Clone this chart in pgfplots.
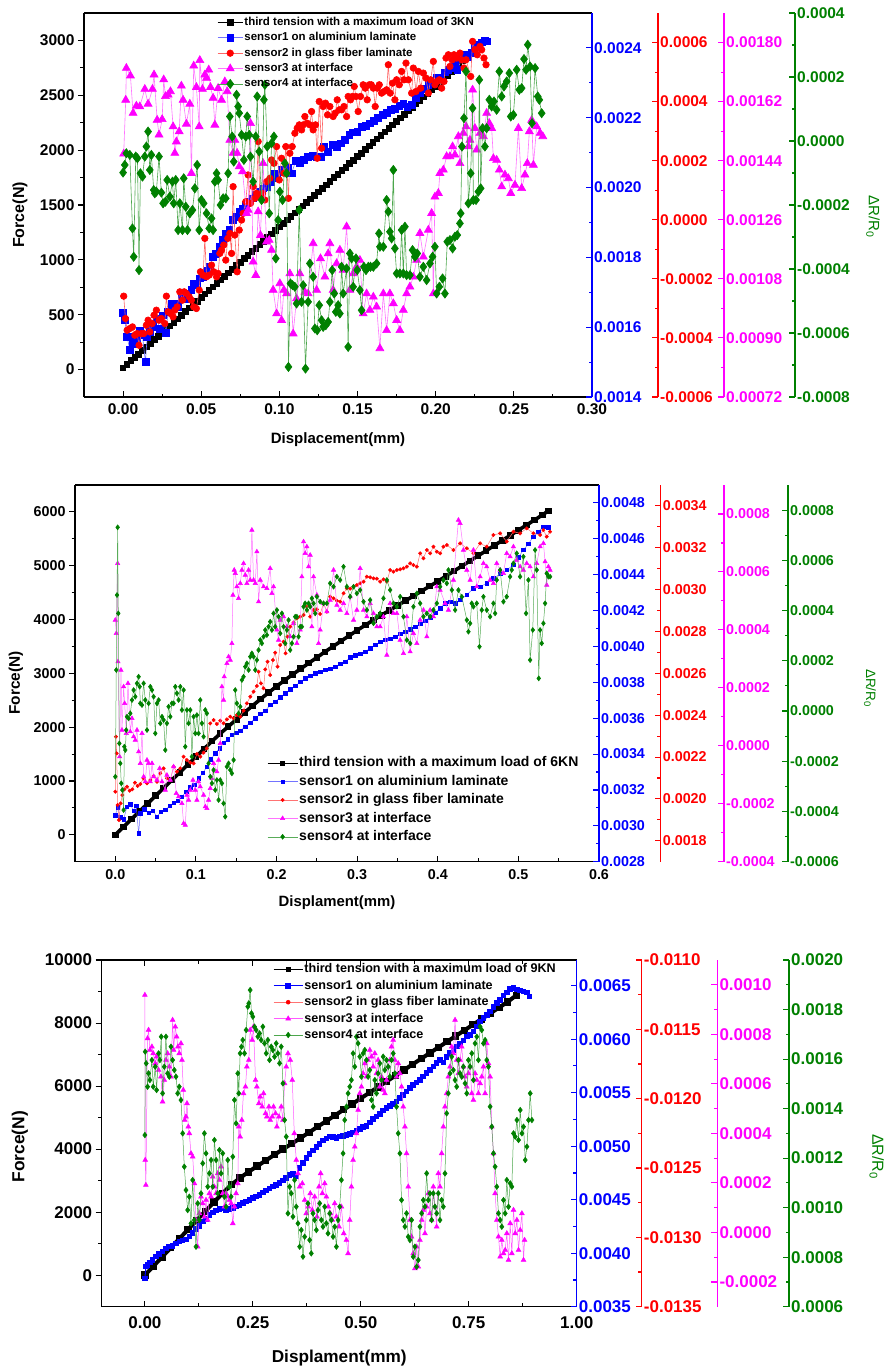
\documentclass[border=0pt]{standalone}
\usepackage{fontspec}
\setmainfont{Liberation Sans}
\usepackage{pgfplots}
\pgfplotsset{compat=1.18}
\definecolor{ogreen}{RGB}{0,128,0}
\definecolor{omag}{RGB}{255,0,255}
\definecolor{oblue}{RGB}{0,0,255}
\definecolor{ored}{RGB}{255,0,0}
\newcommand\fa{\bfseries\fontsize{15.5}{16}\selectfont}
\newcommand\fb{\bfseries\fontsize{14.3}{15}\selectfont}
\newcommand\fc{\bfseries\fontsize{17}{18}\selectfont}
\pgfplotsset{
  base/.style={
    scale only axis,
    /pgf/number format/assume math mode=true,
    /pgf/number format/1000 sep={},
    scaled x ticks=false, scaled y ticks=false,
    major tick length=6pt, minor tick length=3.5pt,
    axis line style={line width=1.5pt,-},
  },
  off/.style={
    base, hide x axis, axis y line*=right, tick align=inside,
    y axis line style={draw=#1,-},
    tick style={draw=#1, line width=1.1pt},
    minor y tick num=1,
    yticklabel style={text=#1, inner sep=2pt,
      /pgf/number format/fixed, /pgf/number format/fixed zerofill,
      /pgf/number format/precision=4},
  },
  mainax/.style={
    base, axis x line*=box, axis y line*=left,
    x axis line style={-}, y axis line style={-},
    xtick align=inside, ytick align=outside,
    tick style={draw=black, line width=1.1pt},
    minor x tick num=1, minor y tick num=1,
    xticklabel style={/pgf/number format/fixed, /pgf/number format/fixed zerofill},
  },
  k1/.style={black, line width=1pt, mark=square*, mark size=2.8pt, mark options={solid}},
  b1/.style={oblue!55, line width=0.6pt, mark=square*, mark size=3.4pt, mark options={solid, fill=oblue, draw=oblue}},
  r1/.style={ored!60, line width=0.6pt, mark=*, mark size=3.3pt, mark options={solid, fill=ored, draw=ored}},
  m1/.style={omag!55, line width=0.6pt, mark=triangle*, mark size=4.6pt, mark options={solid, fill=omag, draw=omag}},
  g1/.style={ogreen!70, line width=0.6pt, mark=diamond*, mark size=4.6pt, mark options={solid, fill=ogreen, draw=ogreen}},
  k2/.style={black, line width=3.6pt, mark=square*, mark size=1.5pt, mark options={solid}},
  b2/.style={oblue!55, line width=0.5pt, mark=square*, mark size=1.7pt, mark options={solid, fill=oblue, draw=oblue}},
  r2/.style={ored!55, line width=0.5pt, mark=*, mark size=1.7pt, mark options={solid, fill=ored, draw=ored}},
  m2/.style={omag!55, line width=0.5pt, mark=triangle*, mark size=2.5pt, mark options={solid, fill=omag, draw=omag}},
  g2/.style={ogreen!65, line width=0.5pt, mark=diamond*, mark size=2.5pt, mark options={solid, fill=ogreen, draw=ogreen}},
  k3/.style={black, line width=4pt, mark=square*, mark size=1.7pt, mark options={solid}},
  b3/.style={oblue, line width=1pt, mark=square*, mark size=2.3pt, mark options={solid, fill=oblue, draw=oblue}},
  r3/.style={ored!55, line width=0.5pt, mark=*, mark size=2pt, mark options={solid, fill=ored, draw=ored}},
  m3/.style={omag!65, line width=0.5pt, mark=triangle*, mark size=2.8pt, mark options={solid, fill=omag, draw=omag}},
  g3/.style={ogreen!70, line width=0.5pt, mark=diamond*, mark size=2.8pt, mark options={solid, fill=ogreen, draw=ogreen}},
}
\begin{document}
\begin{tikzpicture}
\path[use as bounding box] (0,0) rectangle (886pt,-1370pt);
% ================= PANEL 1 =================
\begin{axis}[mainax, at={(84pt,-397pt)}, anchor=south west, width=508pt, height=384pt,
  xmin=-0.025, xmax=0.30, ymin=-250, ymax=3250, xtick pos=left,
  xtick={0,0.05,0.10,0.15,0.20,0.25,0.30}, ytick={0,500,1000,1500,2000,2500,3000},
  xticklabel style={/pgf/number format/precision=2, yshift=-3pt}, ticklabel style={font=\fa},
  xlabel={Displacement(mm)}, ylabel={Force(N)},
  every axis x label/.style={at={(axis description cs:0.5,-0.112)}, anchor=center, font=\bfseries\fontsize{15}{15}\selectfont},
  every axis y label/.style={at={(axis description cs:-0.126,0.474)}, anchor=center, rotate=90, font=\bfseries\fontsize{16}{16}\selectfont}]
\addplot[k1] coordinates {(0,15)(0.0025,48)(0.005,80)(0.0075,110)(0.01,140)(0.0125,172)(0.015,205)(0.0175,238)(0.02,272)(0.0225,303)(0.025,335)(0.0275,366)(0.03,398)(0.0325,430)(0.035,462)(0.0375,495)(0.04,528)(0.0425,560)(0.045,592)(0.0475,623)(0.05,655)(0.0525,688)(0.055,720)(0.0575,753)(0.06,786)(0.0625,818)(0.065,850)(0.0675,881)(0.07,913)(0.0725,946)(0.075,978)(0.0775,1010)(0.08,1042)(0.0825,1074)(0.085,1106)(0.0875,1138)(0.09,1170)(0.0925,1203)(0.095,1236)(0.0975,1268)(0.1,1300)(0.1025,1332)(0.105,1364)(0.1075,1396)(0.11,1428)(0.1125,1460)(0.115,1492)(0.1175,1524)(0.12,1556)(0.1225,1588)(0.125,1620)(0.1275,1652)(0.13,1684)(0.1325,1716)(0.135,1748)(0.1375,1780)(0.14,1812)(0.1425,1844)(0.145,1876)(0.1475,1908)(0.15,1940)(0.1525,1972)(0.155,2004)(0.1575,2036)(0.16,2068)(0.1625,2100)(0.165,2132)(0.1675,2164)(0.17,2196)(0.1725,2228)(0.175,2260)(0.1775,2292)(0.18,2324)(0.1825,2356)(0.185,2388)(0.1875,2420)(0.19,2452)(0.1925,2484)(0.195,2516)(0.1975,2548)(0.2,2580)(0.2025,2612)(0.205,2645)(0.2075,2678)(0.21,2712)(0.2125,2746)(0.215,2780)(0.2175,2814)(0.22,2848)(0.2225,2882)(0.225,2915)(0.2275,2948)(0.23,2980)(0.232,3000)};
\end{axis}
\begin{axis}[off=oblue, at={(84pt,-397pt)}, anchor=south west, width=508pt, height=384pt,
  xmin=-0.025, xmax=0.30, ymin=0.0014, ymax=0.0025,
  ytick={0.0014,0.0016,0.0018,0.0020,0.0022,0.0024}, yticklabel style={font=\fa}]
\addplot[b1] coordinates {(0,0.001642)(0.0011,0.001620)(0.0026,0.001572)(0.0043,0.001536)(0.0060,0.001553)(0.0075,0.001572)(0.0090,0.001567)(0.0107,0.001591)(0.0124,0.001577)(0.0143,0.001500)(0.0154,0.001572)(0.0171,0.001587)(0.0192,0.001601)(0.0213,0.001625)(0.0235,0.001596)(0.0256,0.001634)(0.0273,0.001584)(0.0288,0.001644)(0.0309,0.001668)(0.0331,0.001668)(0.0352,0.001658)(0.0373,0.001682)(0.0395,0.001682)(0.0416,0.001697)(0.0437,0.001706)(0.0452,0.001725)(0.0474,0.001720)(0.0491,0.001740)(0.0512,0.001744)(0.0534,0.001763)(0.0555,0.001773)(0.0572,0.001802)(0.0593,0.001811)(0.0615,0.001830)(0.0636,0.001850)(0.0657,0.001869)(0.0679,0.001878)(0.0700,0.001907)(0.0721,0.001917)(0.0743,0.001931)(0.0764,0.001940)(0.0785,0.001950)(0.0807,0.001960)(0.0828,0.001969)(0.0849,0.001979)(0.0871,0.001988)(0.0896,0.001998)(0.0918,0.002003)(0.0943,0.002017)(0.0965,0.002039)(0.0986,0.002027)(0.1014,0.002050)(0.1035,0.002046)(0.1056,0.002057)(0.1078,0.002041)(0.1105,0.002077)(0.1131,0.002071)(0.1157,0.002079)(0.1184,0.002089)(0.1212,0.002091)(0.1238,0.002089)(0.1263,0.002087)(0.1285,0.002117)(0.1312,0.002103)(0.1340,0.002122)(0.1366,0.002117)(0.1391,0.002127)(0.1419,0.002137)(0.1447,0.002151)(0.1472,0.002158)(0.1498,0.002160)(0.1526,0.002173)(0.1554,0.002177)(0.1579,0.002184)(0.1605,0.002192)(0.1632,0.002199)(0.1660,0.002208)(0.1686,0.002215)(0.1711,0.002223)(0.1739,0.002225)(0.1767,0.002234)(0.1793,0.002240)(0.1818,0.002232)(0.1846,0.002237)(0.1874,0.002256)(0.1899,0.002270)(0.1925,0.002282)(0.1953,0.002294)(0.1980,0.002304)(0.2006,0.002316)(0.2032,0.002311)(0.2059,0.002330)(0.2081,0.002337)(0.2102,0.002342)(0.2123,0.002352)(0.2138,0.002337)(0.2166,0.002368)(0.2187,0.002380)(0.2209,0.002374)(0.2230,0.002385)(0.2251,0.002400)(0.2273,0.002409)(0.2294,0.002416)(0.2315,0.002422)(0.2330,0.002419)};
\end{axis}
\begin{axis}[off=ored, at={(84pt,-397pt)}, anchor=south west, width=574pt, height=384pt,
  xmin=-0.025, xmax=0.34222, ymin=-0.0006, ymax=0.0007,
  ytick={-0.0006,-0.0004,-0.0002,0,0.0002,0.0004,0.0006}, yticklabel style={font=\fa}]
\addplot[r1] coordinates {(0.0004,-0.0002586)(0.0015,-0.0003343)(0.0026,-0.0003739)(0.0043,-0.0003682)(0.0060,-0.0003626)(0.0075,-0.0003909)(0.0090,-0.0003852)(0.0102,-0.0004248)(0.0117,-0.0003852)(0.0132,-0.0003852)(0.0149,-0.0003569)(0.0160,-0.0003400)(0.0171,-0.0003796)(0.0186,-0.0003513)(0.0198,-0.0003231)(0.0213,-0.0003061)(0.0230,-0.0003400)(0.0245,-0.0003343)(0.0267,-0.0003513)(0.0277,-0.0002586)(0.0288,-0.0003117)(0.0303,-0.0003174)(0.0320,-0.0003287)(0.0331,-0.0003061)(0.0346,-0.0002948)(0.0363,-0.0002439)(0.0380,-0.0002722)(0.0391,-0.0002439)(0.0405,-0.0002496)(0.0423,-0.0002608)(0.0437,-0.0002722)(0.0452,-0.0002948)(0.0469,-0.0003004)(0.0487,-0.0002382)(0.0495,-0.0001761)(0.0512,-0.0001874)(0.0523,-0.0000630)(0.0534,-0.0001930)(0.0551,-0.0001874)(0.0566,-0.0001535)(0.0580,-0.0001761)(0.0598,-0.0001930)(0.0608,-0.0001817)(0.0619,-0.0001139)(0.0630,-0.0001026)(0.0644,-0.0000856)(0.0657,-0.0001365)(0.0670,-0.0000630)(0.0683,-0.0000461)(0.0694,-0.0001139)(0.0704,0.0001122)(0.0715,-0.0000517)(0.0730,-0.0001761)(0.0743,-0.0000348)(0.0758,-0.0000009)(0.0768,0.0000217)(0.0785,0.0000613)(0.0800,0.0001517)(0.0815,0.0000557)(0.0832,0.0001122)(0.0843,0.0000726)(0.0854,0.0000896)(0.0864,0.0002648)(0.0875,0.0000783)(0.0892,0.0000896)(0.0907,0.0000670)(0.0918,0.0001291)(0.0939,0.0001404)(0.0950,0.0002026)(0.0965,0.0001913)(0.0982,0.0002478)(0.0999,0.0001348)(0.1014,0.0002083)(0.1029,0.0001574)(0.1041,0.0002478)(0.1058,0.0000726)(0.1067,0.0002252)(0.1082,0.0002478)(0.1099,0.0002930)(0.1114,0.0003100)(0.1127,0.0003213)(0.1142,0.0003043)(0.1152,0.0003213)(0.1163,0.0003496)(0.1178,0.0003270)(0.1195,0.0003213)(0.1206,0.0003665)(0.1216,0.0003043)(0.1231,0.0003213)(0.1242,0.0002083)(0.1255,0.0004004)(0.1270,0.0002422)(0.1280,0.0003835)(0.1295,0.0003948)(0.1308,0.0003552)(0.1323,0.0003835)(0.1344,0.0003496)(0.1357,0.0003609)(0.1370,0.0004061)(0.1383,0.0003722)(0.1398,0.0003722)(0.1413,0.0003835)(0.1430,0.0003496)(0.1440,0.0004174)(0.1455,0.0004061)(0.1468,0.0004174)(0.1479,0.0004513)(0.1490,0.0004174)(0.1504,0.0003665)(0.1519,0.0004174)(0.1536,0.0004570)(0.1549,0.0004456)(0.1562,0.0004061)(0.1575,0.0004570)(0.1588,0.0004570)(0.1601,0.0004456)(0.1613,0.0003835)(0.1626,0.0004456)(0.1639,0.0004570)(0.1654,0.0004287)(0.1669,0.0004343)(0.1686,0.0004400)(0.1697,0.0005248)(0.1709,0.0004287)(0.1724,0.0004626)(0.1739,0.0004061)(0.1750,0.0004739)(0.1767,0.0004570)(0.1782,0.0005022)(0.1797,0.0004739)(0.1810,0.0005304)(0.1825,0.0004739)(0.1846,0.0004287)(0.1857,0.0005135)(0.1874,0.0004343)(0.1889,0.0005022)(0.1904,0.0004456)(0.1921,0.0004965)(0.1938,0.0004796)(0.1953,0.0004287)(0.1968,0.0004739)(0.1985,0.0005361)(0.1995,0.0004570)(0.2010,0.0004683)(0.2023,0.0004739)(0.2038,0.0004456)(0.2053,0.0004683)(0.2066,0.0005474)(0.2081,0.0005587)(0.2091,0.0005191)(0.2106,0.0005417)(0.2117,0.0005587)(0.2134,0.0005474)(0.2155,0.0005643)(0.2166,0.0005417)(0.2181,0.0005135)(0.2194,0.0005417)(0.2224,0.0004852)(0.2236,0.0006039)(0.2251,0.0005756)(0.2266,0.0005587)(0.2283,0.0005869)(0.2294,0.0005756)(0.2309,0.0005474)(0.2322,0.0005248)};
\end{axis}
\begin{axis}[off=omag, at={(84pt,-397pt)}, anchor=south west, width=640pt, height=384pt,
  xmin=-0.025, xmax=0.38444, ymin=0.00072, ymax=0.00189,
  ytick={0.00072,0.00090,0.00108,0.00126,0.00144,0.00162,0.00180},
  yticklabel style={font=\fa, /pgf/number format/precision=5}]
\addplot[m1] coordinates {(0.0004,0.001461)(0.0017,0.001625)(0.0021,0.001722)(0.0047,0.001699)(0.0064,0.001585)(0.0085,0.001607)(0.0107,0.001605)(0.0139,0.001658)(0.0160,0.001613)(0.0188,0.001658)(0.0198,0.001702)(0.0218,0.001564)(0.0230,0.001519)(0.0250,0.001566)(0.0260,0.001687)(0.0271,0.001636)(0.0288,0.001641)(0.0303,0.001651)(0.0320,0.001544)(0.0331,0.001463)(0.0341,0.001498)(0.0359,0.001529)(0.0373,0.001668)(0.0384,0.001625)(0.0405,0.001552)(0.0427,0.001613)(0.0437,0.001402)(0.0452,0.001729)(0.0469,0.001664)(0.0487,0.001544)(0.0491,0.001746)(0.0508,0.001658)(0.0523,0.001702)(0.0534,0.001692)(0.0548,0.001717)(0.0559,0.001664)(0.0576,0.001631)(0.0587,0.001549)(0.0608,0.001661)(0.0630,0.001625)(0.0651,0.001681)(0.0666,0.001651)(0.0683,0.001503)(0.0704,0.001463)(0.0715,0.001503)(0.0730,0.001463)(0.0743,0.001422)(0.0764,0.001407)(0.0790,0.001280)(0.0800,0.001290)(0.0815,0.001554)(0.0832,0.001132)(0.0849,0.001091)(0.0864,0.001285)(0.0879,0.001213)(0.0896,0.001432)(0.0918,0.001193)(0.0935,0.001198)(0.0950,0.001168)(0.0960,0.001046)(0.0982,0.000974)(0.1003,0.001066)(0.1014,0.000954)(0.1029,0.001046)(0.1046,0.001035)(0.1067,0.001096)(0.1088,0.000913)(0.1110,0.001020)(0.1131,0.001096)(0.1163,0.001040)(0.1184,0.001035)(0.1216,0.001188)(0.1238,0.001046)(0.1263,0.001142)(0.1291,0.001086)(0.1312,0.001157)(0.1323,0.001188)(0.1344,0.001046)(0.1366,0.001127)(0.1387,0.001168)(0.1408,0.001107)(0.1430,0.001239)(0.1451,0.001046)(0.1472,0.001096)(0.1494,0.001117)(0.1515,0.001137)(0.1536,0.000974)(0.1558,0.001035)(0.1579,0.000985)(0.1601,0.001025)(0.1622,0.000995)(0.1643,0.000868)(0.1665,0.001035)(0.1686,0.000923)(0.1707,0.001035)(0.1729,0.001005)(0.1750,0.000954)(0.1771,0.000923)(0.1793,0.000985)(0.1814,0.001035)(0.1835,0.001056)(0.1857,0.001086)(0.1878,0.001137)(0.1899,0.001219)(0.1921,0.001147)(0.1953,0.001229)(0.1974,0.001280)(0.1985,0.001035)(0.1995,0.001330)(0.2017,0.001341)(0.2027,0.001402)(0.2049,0.001412)(0.2070,0.001453)(0.2091,0.001453)(0.2108,0.001483)(0.2123,0.001458)(0.2145,0.001514)(0.2155,0.001432)(0.2177,0.001524)(0.2194,0.001544)(0.2209,0.001483)(0.2219,0.001503)(0.2236,0.001656)(0.2251,0.001539)(0.2262,0.001473)(0.2283,0.001524)(0.2305,0.001514)(0.2326,0.001585)(0.2343,0.001554)(0.2358,0.001539)(0.2369,0.001447)(0.2390,0.001442)(0.2407,0.001412)(0.2422,0.001361)(0.2443,0.001397)(0.2465,0.001386)(0.2480,0.001341)(0.2507,0.001366)(0.2529,0.001539)(0.2550,0.001356)(0.2571,0.001397)(0.2586,0.001432)(0.2599,0.001529)(0.2614,0.001564)(0.2625,0.001427)(0.2646,0.001544)(0.2668,0.001524)(0.2685,0.001514)};
\end{axis}
\begin{axis}[off=ogreen, at={(84pt,-397pt)}, anchor=south west, width=711pt, height=384pt,
  xmin=-0.025, xmax=0.42987, ymin=-0.0008, ymax=0.0004,
  ytick={-0.0008,-0.0006,-0.0004,-0.0002,0,0.0002,0.0004}, yticklabel style={font=\fa},
  ylabel={ΔR/R\textsubscript{0}},
  every axis y label/.style={at={(axis description cs:1.1097,0.469)}, anchor=center, rotate=-90, text=ogreen, font=\fontsize{15}{15}\selectfont},
  legend style={at={(axis description cs:0.1871,0.9935)}, anchor=north west, draw=none, fill=none, inner sep=0pt, row sep=2pt,
    font=\bfseries\fontsize{11.5}{12}\selectfont, nodes={inner sep=1.2pt, text height=8.5pt, text depth=2.5pt}},
  legend cell align=left,
  legend image code/.code={\draw[mark repeat=2,mark phase=2,#1] plot coordinates {(0pt,0pt) (12.5pt,0pt) (25pt,0pt)};}]
\addlegendimage{k1}
\addlegendimage{b1}
\addlegendimage{r1}
\addlegendimage{m1}
\addplot[g1] coordinates {(0,-0.0000988)(0.0011,-0.0000748)(0.0021,-0.0000383)(0.0043,-0.0000435)(0.0060,-0.0002731)(0.0068,-0.0003618)(0.0081,-0.0000487)(0.0092,-0.0000540)(0.0102,-0.0004035)(0.0111,-0.0001009)(0.0124,-0.0001114)(0.0139,-0.0000487)(0.0149,-0.0000174)(0.0160,0.0000295)(0.0171,-0.0000905)(0.0181,-0.0000435)(0.0196,-0.0001531)(0.0203,-0.0001635)(0.0213,-0.0001583)(0.0230,-0.0000487)(0.0245,-0.0001614)(0.0256,-0.0001948)(0.0271,-0.0001896)(0.0282,-0.0001218)(0.0299,-0.0001740)(0.0316,-0.0001270)(0.0324,-0.0001948)(0.0337,-0.0001218)(0.0352,-0.0002783)(0.0363,-0.0001948)(0.0380,-0.0002783)(0.0388,-0.0001166)(0.0401,-0.0002053)(0.0412,-0.0002783)(0.0427,-0.0002261)(0.0444,-0.0002157)(0.0459,-0.0001479)(0.0474,-0.0000748)(0.0487,-0.0002783)(0.0501,-0.0001844)(0.0516,-0.0001948)(0.0534,-0.0002261)(0.0551,-0.0002731)(0.0566,-0.0002418)(0.0576,-0.0002783)(0.0587,-0.0001270)(0.0598,-0.0001009)(0.0608,-0.0001218)(0.0623,-0.0002000)(0.0640,-0.0001792)(0.0657,-0.0001792)(0.0672,-0.0001009)(0.0683,0.0000765)(0.0698,0.0000139)(0.0708,-0.0000644)(0.0726,0.0001443)(0.0736,0.0001078)(0.0743,0.0000869)(0.0758,0.0000191)(0.0773,-0.0000592)(0.0785,0.0000139)(0.0794,0.0000765)(0.0807,0.0000191)(0.0815,-0.0000487)(0.0832,-0.0001270)(0.0849,0.0000139)(0.0858,0.0001391)(0.0871,-0.0000331)(0.0886,-0.0001844)(0.0901,0.0001287)(0.0907,0.0001756)(0.0922,-0.0000174)(0.0935,-0.0002261)(0.0950,-0.0000070)(0.0965,0.0000139)(0.0977,-0.0003670)(0.0992,-0.0002470)(0.1003,-0.0001583)(0.1020,-0.0001844)(0.1035,-0.0000696)(0.1046,-0.0001009)(0.1058,-0.0007061)(0.1071,-0.0004453)(0.1084,-0.0004505)(0.1099,-0.0004557)(0.1110,-0.0005079)(0.1127,-0.0002157)(0.1142,-0.0005027)(0.1152,-0.0004505)(0.1167,-0.0007113)(0.1184,-0.0005027)(0.1195,-0.0003827)(0.1216,-0.0004244)(0.1227,-0.0005861)(0.1242,-0.0005913)(0.1255,-0.0005131)(0.1270,-0.0005601)(0.1280,-0.0005809)(0.1297,-0.0005757)(0.1312,-0.0005653)(0.1323,-0.0005027)(0.1338,-0.0004035)(0.1351,-0.0004766)(0.1361,-0.0005340)(0.1376,-0.0005131)(0.1387,-0.0005392)(0.1398,-0.0003931)(0.1408,-0.0004766)(0.1430,-0.0003983)(0.1440,-0.0006435)(0.1451,-0.0003514)(0.1462,-0.0003670)(0.1472,-0.0004557)(0.1490,-0.0003670)(0.1498,-0.0004035)(0.1515,-0.0004662)(0.1526,-0.0005288)(0.1541,-0.0003931)(0.1554,-0.0004035)(0.1569,-0.0003931)(0.1583,-0.0003931)(0.1601,-0.0003931)(0.1622,-0.0003827)(0.1637,-0.0002888)(0.1643,-0.0003305)(0.1665,-0.0003305)(0.1686,-0.0001844)(0.1697,-0.0002209)(0.1707,-0.0002836)(0.1718,-0.0003044)(0.1729,-0.0000905)(0.1739,-0.0003357)(0.1750,-0.0004140)(0.1771,-0.0004140)(0.1782,-0.0002783)(0.1793,-0.0004140)(0.1803,-0.0002679)(0.1814,-0.0004192)(0.1835,-0.0004192)(0.1852,-0.0003409)(0.1867,-0.0003618)(0.1882,-0.0003514)(0.1899,-0.0004244)(0.1921,-0.0003931)(0.1942,-0.0004348)(0.1963,-0.0003827)(0.1980,-0.0003618)(0.1995,-0.0003305)(0.2006,-0.0004766)(0.2023,-0.0004557)(0.2044,-0.0004296)(0.2059,-0.0004766)(0.2074,-0.0003148)(0.2091,-0.0003096)(0.2108,-0.0003357)(0.2123,-0.0002992)(0.2138,-0.0002940)(0.2155,-0.0002574)(0.2160,-0.0002261)(0.2168,-0.0000174)(0.2181,0.0000713)(0.2194,0.0002173)(0.2209,-0.0001948)(0.2224,-0.0001009)(0.2236,0.0001026)(0.2241,-0.0001844)(0.2258,-0.0001844)(0.2273,-0.0001583)(0.2279,0.0001913)(0.2288,-0.0001479)(0.2300,0.0000400)(0.2315,-0.0000174)(0.2326,0.0000400)(0.2343,0.0001287)(0.2358,0.0001078)(0.2373,0.0001235)(0.2390,0.0000974)(0.2407,0.0002173)(0.2422,0.0001391)(0.2437,0.0001704)(0.2454,0.0001861)(0.2471,0.0002121)(0.2480,0.0000765)(0.2497,0.0000817)(0.2518,0.0002226)(0.2535,0.0001600)(0.2550,0.0001652)(0.2565,0.0002560)(0.2578,0.0002226)(0.2589,0.0003008)(0.2604,0.0002330)(0.2616,0.0000556)(0.2636,0.0002278)(0.2653,0.0001391)(0.2663,0.0001287)(0.2678,0.0000869)};
\legend{third tension with a maximum load of 3KN, sensor1 on aluminium laminate, sensor2 in glass fiber laminate, sensor3 at interface, sensor4 at interface}
\end{axis}
% ================= PANEL 2 =================
\begin{axis}[mainax, at={(75pt,-861.7pt)}, anchor=south west, width=524pt, height=376.7pt,
  xmin=-0.05, xmax=0.6, ymin=-500, ymax=6500, xtick pos=left,
  xtick={0,0.1,0.2,0.3,0.4,0.5,0.6}, ytick={0,1000,2000,3000,4000,5000,6000},
  xticklabel style={/pgf/number format/precision=1, yshift=-4pt}, ticklabel style={font=\fb},
  xlabel={Displament(mm)}, ylabel={Force(N)},
  every axis x label/.style={at={(axis description cs:0.5,-0.1088)}, anchor=center, font=\bfseries\fontsize{14.9}{15}\selectfont},
  every axis y label/.style={at={(axis description cs:-0.1126,0.4744)}, anchor=center, rotate=90, font=\bfseries\fontsize{15.4}{16}\selectfont}]
\addplot[k2] coordinates {(0,0)(0.01,145)(0.02,290)(0.03,435)(0.04,580)(0.05,725)(0.06,870)(0.07,1015)(0.08,1160)(0.09,1305)(0.1,1450)(0.11,1595)(0.12,1740)(0.13,1878)(0.14,2010)(0.15,2140)(0.16,2270)(0.17,2395)(0.18,2520)(0.19,2640)(0.2,2760)(0.21,2870)(0.22,2980)(0.23,3085)(0.24,3190)(0.25,3295)(0.26,3400)(0.27,3500)(0.28,3600)(0.29,3700)(0.3,3800)(0.31,3895)(0.32,3990)(0.33,4080)(0.34,4170)(0.35,4260)(0.36,4350)(0.37,4440)(0.38,4530)(0.39,4620)(0.4,4710)(0.41,4805)(0.42,4900)(0.43,4995)(0.44,5090)(0.45,5185)(0.46,5280)(0.47,5375)(0.48,5470)(0.49,5565)(0.5,5660)(0.51,5755)(0.52,5850)(0.53,5945)(0.537,6020)};
\end{axis}
\begin{axis}[off=oblue, at={(75pt,-861.7pt)}, anchor=south west, width=524pt, height=376.7pt,
  xmin=-0.05, xmax=0.6, ymin=0.0028, ymax=0.0049,
  ytick={0.0028,0.0030,0.0032,0.0034,0.0036,0.0038,0.0040,0.0042,0.0044,0.0046,0.0048}, yticklabel style={font=\fb}]
\addplot[b2] coordinates {(0,0.0030601)(0.0029,0.0031029)(0.0062,0.0030472)(0.0103,0.0030361)(0.0145,0.0031066)(0.0186,0.0031196)(0.0227,0.0030843)(0.0260,0.0031103)(0.0289,0.0029579)(0.0310,0.0030694)(0.0360,0.0030917)(0.0413,0.0030731)(0.0467,0.0030843)(0.0517,0.0030508)(0.0566,0.0030787)(0.0620,0.0030880)(0.0674,0.0031103)(0.0723,0.0031289)(0.0773,0.0031400)(0.0826,0.0031623)(0.0880,0.0031902)(0.0930,0.0032144)(0.0979,0.0032274)(0.1033,0.0032646)(0.1087,0.0032962)(0.1136,0.0033296)(0.1186,0.0033705)(0.1240,0.0034040)(0.1293,0.0034319)(0.1343,0.0034635)(0.1393,0.0034821)(0.1446,0.0035062)(0.1500,0.0035192)(0.1550,0.0035304)(0.1612,0.0035527)(0.1674,0.0035750)(0.1736,0.0035991)(0.1798,0.0036233)(0.1860,0.0036418)(0.1921,0.0036734)(0.1983,0.0036920)(0.2045,0.0037162)(0.2107,0.0037385)(0.2169,0.0037608)(0.2231,0.0037794)(0.2293,0.0038017)(0.2355,0.0038221)(0.2417,0.0038351)(0.2479,0.0038500)(0.2541,0.0038574)(0.2603,0.0038686)(0.2665,0.0038760)(0.2727,0.0038871)(0.2789,0.0039020)(0.2851,0.0039150)(0.2913,0.0039392)(0.2975,0.0039503)(0.3037,0.0039578)(0.3099,0.0039708)(0.3161,0.0039894)(0.3223,0.0040079)(0.3285,0.0040247)(0.3347,0.0040358)(0.3409,0.0040433)(0.3471,0.0040544)(0.3533,0.0040693)(0.3595,0.0040804)(0.3657,0.0040953)(0.3719,0.0041102)(0.3781,0.0041250)(0.3843,0.0041436)(0.3905,0.0041622)(0.3967,0.0041882)(0.4029,0.0042124)(0.4091,0.0042402)(0.4153,0.0042495)(0.4215,0.0042402)(0.4277,0.0042588)(0.4360,0.0042867)(0.4442,0.0043239)(0.4525,0.0043332)(0.4607,0.0043518)(0.4690,0.0043797)(0.4773,0.0044038)(0.4855,0.0044261)(0.4938,0.0044540)(0.5000,0.0044967)(0.5062,0.0045376)(0.5124,0.0045710)(0.5186,0.0046127)(0.5248,0.0046398)(0.5310,0.0046677)(0.5372,0.0046640)};
\end{axis}
\begin{axis}[off=ored, at={(75pt,-861.7pt)}, anchor=south west, width=585.7pt, height=376.7pt,
  xmin=-0.05, xmax=0.67649, ymin=0.0017, ymax=0.0035,
  ytick={0.0018,0.0020,0.0022,0.0024,0.0026,0.0028,0.0030,0.0032,0.0034}, yticklabel style={font=\fb}]
\addplot[r2] coordinates {(0,0.0020345)(0.0008,0.0022974)(0.0017,0.0022177)(0.0029,0.0019708)(0.0045,0.0018991)(0.0066,0.0019788)(0.0087,0.0020185)(0.0112,0.0020457)(0.0145,0.0020584)(0.0178,0.0020393)(0.0211,0.0020457)(0.0244,0.0020775)(0.0277,0.0020616)(0.0310,0.0020712)(0.0351,0.0020983)(0.0393,0.0020743)(0.0434,0.0020903)(0.0475,0.0021094)(0.0517,0.0020823)(0.0558,0.0021221)(0.0599,0.0021460)(0.0640,0.0020983)(0.0682,0.0020903)(0.0723,0.0021540)(0.0764,0.0021301)(0.0806,0.0021460)(0.0847,0.0022018)(0.0888,0.0021858)(0.0930,0.0021731)(0.0971,0.0021699)(0.1012,0.0022145)(0.1054,0.0022018)(0.1095,0.0022209)(0.1136,0.0022416)(0.1178,0.0023611)(0.1219,0.0023770)(0.1260,0.0023579)(0.1302,0.0023738)(0.1343,0.0023611)(0.1384,0.0023802)(0.1426,0.0023930)(0.1467,0.0023850)(0.1508,0.0024009)(0.1550,0.0023930)(0.1591,0.0024216)(0.1632,0.0024567)(0.1674,0.0024885)(0.1715,0.0025124)(0.1756,0.0025396)(0.1777,0.0026080)(0.1806,0.0025522)(0.1839,0.0025283)(0.1860,0.0026191)(0.1888,0.0026558)(0.1921,0.0025920)(0.1955,0.0026637)(0.1983,0.0026988)(0.2012,0.0026319)(0.2045,0.0027354)(0.2087,0.0027514)(0.2112,0.0026956)(0.2136,0.0027753)(0.2169,0.0028230)(0.2211,0.0028422)(0.2252,0.0028628)(0.2293,0.0028708)(0.2335,0.0028788)(0.2376,0.0029186)(0.2417,0.0028708)(0.2459,0.0029027)(0.2500,0.0029059)(0.2541,0.0028836)(0.2583,0.0029345)(0.2624,0.0028947)(0.2665,0.0029664)(0.2707,0.0029584)(0.2748,0.0029473)(0.2789,0.0029425)(0.2831,0.0029823)(0.2872,0.0030062)(0.2913,0.0030046)(0.2955,0.0030142)(0.2996,0.0030221)(0.3037,0.0030301)(0.3079,0.0030381)(0.3120,0.0030620)(0.3161,0.0030588)(0.3202,0.0030540)(0.3244,0.0030524)(0.3285,0.0030381)(0.3326,0.0030492)(0.3368,0.0030381)(0.3409,0.0030939)(0.3450,0.0030859)(0.3492,0.0030939)(0.3533,0.0030970)(0.3574,0.0031018)(0.3616,0.0031098)(0.3657,0.0031257)(0.3698,0.0031177)(0.3740,0.0031098)(0.3781,0.0031735)(0.3822,0.0031496)(0.3864,0.0031894)(0.3905,0.0031735)(0.3946,0.0032053)(0.3988,0.0031814)(0.4029,0.0031735)(0.4070,0.0032053)(0.4112,0.0032133)(0.4194,0.0031894)(0.4277,0.0032213)(0.4360,0.0031974)(0.4442,0.0031735)(0.4525,0.0032213)(0.4607,0.0032053)(0.4690,0.0032611)(0.4773,0.0032690)(0.4855,0.0032292)(0.4938,0.0032770)(0.5021,0.0032690)(0.5103,0.0032929)(0.5186,0.0032690)(0.5269,0.0032611)(0.5310,0.0032850)(0.5351,0.0032531)(0.5393,0.0032770)};
\end{axis}
\begin{axis}[off=omag, at={(75pt,-861.7pt)}, anchor=south west, width=649pt, height=376.7pt,
  xmin=-0.05, xmax=0.75501, ymin=-0.0004, ymax=0.0009,
  ytick={-0.0004,-0.0002,0,0.0002,0.0004,0.0006,0.0008}, yticklabel style={font=\fb}]
\addplot[m2] coordinates {(0,0.0004341)(0.0012,0.0003881)(0.0029,0.0006296)(0.0033,0.0002903)(0.0054,-0.0000376)(0.0070,0.0002615)(0.0083,0.0000544)(0.0103,0.0002040)(0.0116,0.0001465)(0.0136,0.0000430)(0.0157,0.0002155)(0.0186,0.0000487)(0.0207,0.0000947)(0.0227,0.0000314)(0.0248,0.0000199)(0.0269,0.0000544)(0.0289,-0.0000204)(0.0310,-0.0000606)(0.0331,0.0000430)(0.0351,-0.0001066)(0.0372,-0.0001239)(0.0393,-0.0000491)(0.0413,-0.0000606)(0.0434,-0.0001239)(0.0455,-0.0000606)(0.0475,-0.0001066)(0.0517,-0.0001181)(0.0550,-0.0000779)(0.0579,-0.0001239)(0.0620,-0.0001526)(0.0640,-0.0001009)(0.0682,-0.0001181)(0.0723,-0.0000721)(0.0756,-0.0001641)(0.0785,-0.0001756)(0.0826,-0.0001987)(0.0847,-0.0002677)(0.0868,-0.0002734)(0.0888,-0.0001699)(0.0909,-0.0001871)(0.0930,-0.0001526)(0.0963,-0.0001181)(0.0992,-0.0001526)(0.1012,-0.0001871)(0.1033,-0.0001239)(0.1054,-0.0001411)(0.1095,-0.0001699)(0.1116,-0.0002101)(0.1136,-0.0002159)(0.1157,-0.0001871)(0.1178,-0.0001469)(0.1198,-0.0001124)(0.1219,-0.0000606)(0.1260,-0.0000894)(0.1281,-0.0000491)(0.1302,0.0000084)(0.1322,0.0002040)(0.1343,0.0001580)(0.1351,0.0002385)(0.1384,0.0002845)(0.1405,0.0003075)(0.1426,0.0002960)(0.1446,0.0003535)(0.1459,0.0005204)(0.1475,0.0006066)(0.1488,0.0005952)(0.1508,0.0005491)(0.1529,0.0005088)(0.1550,0.0005606)(0.1570,0.0006066)(0.1591,0.0006296)(0.1612,0.0005894)(0.1632,0.0005606)(0.1653,0.0006066)(0.1674,0.0005721)(0.1694,0.0007447)(0.1715,0.0005721)(0.1736,0.0005606)(0.1756,0.0006699)(0.1777,0.0004973)(0.1798,0.0005721)(0.1839,0.0005491)(0.1880,0.0005434)(0.1921,0.0006124)(0.1942,0.0005261)(0.1963,0.0005491)(0.2004,0.0004000)(0.2025,0.0003651)(0.2045,0.0004341)(0.2087,0.0004456)(0.2128,0.0004111)(0.2169,0.0003766)(0.2211,0.0004226)(0.2252,0.0003535)(0.2293,0.0004000)(0.2314,0.0005836)(0.2335,0.0007044)(0.2355,0.0006642)(0.2376,0.0006872)(0.2397,0.0006181)(0.2417,0.0006584)(0.2438,0.0004111)(0.2459,0.0005836)(0.2500,0.0005204)(0.2521,0.0003535)(0.2541,0.0004000)(0.2583,0.0004916)(0.2624,0.0004628)(0.2665,0.0005031)(0.2707,0.0006066)(0.2748,0.0004858)(0.2789,0.0004686)(0.2831,0.0004916)(0.2872,0.0004571)(0.2913,0.0005146)(0.2955,0.0004341)(0.2996,0.0004686)(0.3037,0.0006124)(0.3079,0.0004686)(0.3120,0.0004456)(0.3161,0.0004916)(0.3202,0.0004571)(0.3244,0.0004111)(0.3285,0.0004111)(0.3326,0.0004456)(0.3368,0.0003133)(0.3409,0.0004916)(0.3450,0.0004571)(0.3492,0.0004571)(0.3533,0.0003651)(0.3574,0.0003190)(0.3616,0.0004456)(0.3657,0.0003248)(0.3698,0.0003881)(0.3740,0.0003535)(0.3781,0.0004341)(0.3822,0.0004686)(0.3864,0.0003766)(0.3905,0.0004686)(0.3946,0.0004456)(0.3988,0.0005491)(0.4029,0.0005376)(0.4091,0.0004916)(0.4132,0.0004686)(0.4194,0.0005721)(0.4256,0.0007792)(0.4277,0.0007677)(0.4318,0.0006757)(0.4360,0.0006066)(0.4401,0.0005721)(0.4442,0.0006757)(0.4483,0.0005491)(0.4525,0.0005836)(0.4566,0.0006296)(0.4607,0.0006181)(0.4649,0.0005721)(0.4690,0.0005606)(0.4731,0.0006296)(0.4773,0.0006066)(0.4814,0.0005952)(0.4855,0.0006642)(0.4897,0.0006526)(0.4938,0.0006872)(0.4979,0.0006411)(0.5021,0.0006181)(0.5062,0.0006066)(0.5103,0.0006296)(0.5145,0.0006181)(0.5186,0.0005836)(0.5227,0.0006296)(0.5269,0.0006872)(0.5310,0.0006987)(0.5331,0.0006354)(0.5351,0.0005549)(0.5372,0.0006181)(0.5393,0.0006066)};
\end{axis}
\begin{axis}[off=ogreen, at={(75pt,-861.7pt)}, anchor=south west, width=713pt, height=376.7pt,
  xmin=-0.05, xmax=0.83440, ymin=-0.0006, ymax=0.0009,
  ytick={-0.0006,-0.0004,-0.0002,0,0.0002,0.0004,0.0006,0.0008}, yticklabel style={font=\fb},
  ylabel={ΔR/R\textsubscript{0}},
  every axis y label/.style={at={(axis description cs:1.115,0.461)}, anchor=center, rotate=-90, text=ogreen, font=\fontsize{13.5}{14}\selectfont},
  legend style={at={(axis description cs:0.2693,0.2832)}, anchor=north west, draw=none, fill=none, inner sep=0pt, row sep=2.5pt,
    font=\bfseries\fontsize{14}{14}\selectfont, nodes={inner sep=1.2pt, text height=10.5pt, text depth=3pt}},
  legend cell align=left,
  legend image code/.code={\draw[mark repeat=2,mark phase=2,#1] plot coordinates {(0pt,0pt) (15pt,0pt) (30pt,0pt)};}]
\addlegendimage{black, line width=0.8pt, mark=square*, mark size=1.8pt, mark options={solid}}
\addlegendimage{b2}
\addlegendimage{r2}
\addlegendimage{m2}
\addplot[g2] coordinates {(0,-0.0002615)(0.0012,0.0001633)(0.0021,0.0004619)(0.0029,0.0007314)(0.0037,0.0003889)(0.0050,-0.0001288)(0.0062,-0.0002084)(0.0074,-0.0002880)(0.0087,-0.0003146)(0.0103,-0.0003942)(0.0112,-0.0001420)(0.0124,-0.0001553)(0.0136,-0.0000757)(0.0145,-0.0000226)(0.0165,-0.0000292)(0.0186,-0.0000093)(0.0207,0.0000438)(0.0227,0.0000836)(0.0248,0.0000571)(0.0269,0.0001102)(0.0289,0.0001367)(0.0302,0.0000969)(0.0310,0.0000305)(0.0331,0.0000239)(0.0351,0.0001102)(0.0372,0.0000438)(0.0393,-0.0000757)(0.0413,0.0000305)(0.0434,0.0000969)(0.0455,0.0000836)(0.0475,0.0000571)(0.0496,-0.0000890)(0.0517,0.0000305)(0.0537,0.0000438)(0.0558,-0.0000491)(0.0579,-0.0000226)(0.0599,-0.0000358)(0.0620,-0.0001553)(0.0640,-0.0000491)(0.0661,0.0000173)(0.0682,-0.0000226)(0.0702,0.0000305)(0.0723,0.0000305)(0.0744,0.0000969)(0.0764,0.0000704)(0.0785,0.0000438)(0.0806,0.0000969)(0.0826,0.0000040)(0.0847,0.0000836)(0.0868,-0.0001420)(0.0888,0.0000040)(0.0909,-0.0000491)(0.0930,0.0000040)(0.0950,-0.0001819)(0.0971,-0.0000226)(0.0992,-0.0000890)(0.1012,-0.0000160)(0.1033,-0.0000890)(0.1054,0.0000438)(0.1074,-0.0000491)(0.1095,-0.0001022)(0.1116,0.0000040)(0.1136,-0.0000093)(0.1157,-0.0002084)(0.1178,-0.0002615)(0.1198,-0.0002880)(0.1219,-0.0002349)(0.1240,-0.0003146)(0.1260,-0.0002748)(0.1281,-0.0003544)(0.1302,-0.0002748)(0.1322,-0.0002880)(0.1343,-0.0003677)(0.1364,-0.0004208)(0.1384,-0.0002217)(0.1405,-0.0002084)(0.1426,-0.0002349)(0.1446,-0.0002482)(0.1467,-0.0001951)(0.1488,0.0000836)(0.1508,0.0000305)(0.1529,-0.0000093)(0.1550,0.0000172)(0.1570,0.0001235)(0.1591,0.0001367)(0.1612,0.0001766)(0.1632,0.0001898)(0.1653,0.0001633)(0.1674,0.0002164)(0.1694,0.0002296)(0.1715,0.0002164)(0.1736,0.0001633)(0.1756,0.0002031)(0.1777,0.0002429)(0.1798,0.0002827)(0.1818,0.0002695)(0.1839,0.0002960)(0.1860,0.0003226)(0.1880,0.0003027)(0.1901,0.0003358)(0.1921,0.0003558)(0.1942,0.0003226)(0.1963,0.0003889)(0.1983,0.0003358)(0.2004,0.0004022)(0.2025,0.0003757)(0.2045,0.0003093)(0.2066,0.0003889)(0.2087,0.0003358)(0.2107,0.0002695)(0.2128,0.0003226)(0.2149,0.0003624)(0.2169,0.0002429)(0.2190,0.0002695)(0.2211,0.0002960)(0.2231,0.0003757)(0.2252,0.0003757)(0.2273,0.0002960)(0.2293,0.0003358)(0.2314,0.0003358)(0.2335,0.0004155)(0.2355,0.0004288)(0.2376,0.0004022)(0.2397,0.0004288)(0.2417,0.0004155)(0.2438,0.0004487)(0.2459,0.0004288)(0.2479,0.0003889)(0.2500,0.0004553)(0.2541,0.0004354)(0.2583,0.0004288)(0.2624,0.0004288)(0.2665,0.0005084)(0.2707,0.0004951)(0.2748,0.0005350)(0.2789,0.0005217)(0.2831,0.0005748)(0.2872,0.0004951)(0.2913,0.0004553)(0.2955,0.0004951)(0.2996,0.0004686)(0.3037,0.0004819)(0.3079,0.0004354)(0.3120,0.0004022)(0.3161,0.0004420)(0.3202,0.0003491)(0.3244,0.0003757)(0.3285,0.0003889)(0.3326,0.0004487)(0.3368,0.0005217)(0.3409,0.0004819)(0.3450,0.0004288)(0.3492,0.0004155)(0.3533,0.0004553)(0.3574,0.0003757)(0.3616,0.0002827)(0.3657,0.0002695)(0.3698,0.0004155)(0.3740,0.0004686)(0.3781,0.0004288)(0.3822,0.0003757)(0.3864,0.0003889)(0.3905,0.0003757)(0.3946,0.0004022)(0.3988,0.0004288)(0.4029,0.0004951)(0.4070,0.0005217)(0.4112,0.0005084)(0.4132,0.0005615)(0.4174,0.0004819)(0.4215,0.0004022)(0.4256,0.0004819)(0.4298,0.0004553)(0.4360,0.0003624)(0.4380,0.0003159)(0.4401,0.0003491)(0.4421,0.0004288)(0.4442,0.0004155)(0.4483,0.0004288)(0.4517,0.0002562)(0.4545,0.0004022)(0.4566,0.0004553)(0.4607,0.0004022)(0.4649,0.0003757)(0.4690,0.0004288)(0.4711,0.0003889)(0.4731,0.0005217)(0.4773,0.0005615)(0.4814,0.0004354)(0.4855,0.0004553)(0.4897,0.0005350)(0.4917,0.0005615)(0.4938,0.0005881)(0.4979,0.0006279)(0.5021,0.0005350)(0.5062,0.0006146)(0.5095,0.0003889)(0.5124,0.0005217)(0.5145,0.0002031)(0.5178,0.0003226)(0.5207,0.0006412)(0.5227,0.0005615)(0.5252,0.0001301)(0.5269,0.0003226)(0.5289,0.0002695)(0.5310,0.0003491)(0.5331,0.0004288)(0.5351,0.0005483)(0.5372,0.0005350)(0.5393,0.0005350)};
\legend{third tension with a maximum load of 6KN, sensor1 on aluminium laminate, sensor2 in glass fiber laminate, sensor3 at interface, sensor4 at interface}
\end{axis}
% ================= PANEL 3 =================
\begin{axis}[mainax, at={(101.7pt,-1306.7pt)}, anchor=south west, width=475pt, height=346.7pt,
  xmin=-0.1, xmax=1.0, ymin=-1000, ymax=10000, xtick pos=both,
  xtick={0,0.25,0.5,0.75,1.0}, ytick={0,2000,4000,6000,8000,10000},
  xticklabel style={/pgf/number format/precision=2, yshift=-6pt}, ticklabel style={font=\fc},
  xlabel={Displament(mm)}, ylabel={Force(N)},
  every axis x label/.style={at={(axis description cs:0.5,-0.147)}, anchor=center, font=\bfseries\fontsize{17.2}{18}\selectfont},
  every axis y label/.style={at={(axis description cs:-0.172,0.4615)}, anchor=center, rotate=90, font=\bfseries\fontsize{17.4}{18}\selectfont}]
\addplot[k3] coordinates {(0,0)(0.02,290)(0.04,580)(0.06,870)(0.08,1160)(0.1,1450)(0.12,1740)(0.14,2030)(0.16,2320)(0.18,2600)(0.2,2870)(0.22,3080)(0.24,3280)(0.26,3460)(0.28,3640)(0.3,3820)(0.32,4000)(0.34,4170)(0.36,4350)(0.38,4530)(0.4,4710)(0.42,4890)(0.44,5070)(0.46,5250)(0.48,5430)(0.5,5610)(0.52,5790)(0.54,5970)(0.56,6150)(0.58,6330)(0.6,6510)(0.62,6690)(0.64,6870)(0.66,7050)(0.68,7230)(0.7,7410)(0.72,7590)(0.74,7770)(0.76,7950)(0.78,8130)(0.8,8310)(0.82,8490)(0.84,8670)(0.86,8880)};
\end{axis}
\begin{axis}[off=oblue, at={(101.7pt,-1306.7pt)}, anchor=south west, width=475pt, height=346.7pt,
  xmin=-0.1, xmax=1.0, ymin=0.0035, ymax=0.00674,
  ytick={0.0035,0.0040,0.0045,0.0050,0.0055,0.0060,0.0065}, yticklabel style={font=\fc}]
\addplot[b3] coordinates {(0,0.0037651)(0.0023,0.0038743)(0.0062,0.0038899)(0.0116,0.0039117)(0.0178,0.0039366)(0.0255,0.0039678)(0.0333,0.0039928)(0.0410,0.0040147)(0.0488,0.0040458)(0.0565,0.0040614)(0.0642,0.0040677)(0.0720,0.0040926)(0.0797,0.0041082)(0.0875,0.0041176)(0.0952,0.0041300)(0.1029,0.0041550)(0.1107,0.0041861)(0.1184,0.0042236)(0.1262,0.0042547)(0.1339,0.0042953)(0.1416,0.0043171)(0.1494,0.0043576)(0.1571,0.0043795)(0.1649,0.0043982)(0.1726,0.0044106)(0.1803,0.0044169)(0.1881,0.0044044)(0.1958,0.0044106)(0.2036,0.0044200)(0.2113,0.0044356)(0.2190,0.0044512)(0.2268,0.0044668)(0.2345,0.0044824)(0.2423,0.0044980)(0.2500,0.0045136)(0.2577,0.0045291)(0.2655,0.0045447)(0.2732,0.0045665)(0.2810,0.0045852)(0.2887,0.0046040)(0.2964,0.0046227)(0.3042,0.0046383)(0.3119,0.0046539)(0.3197,0.0046788)(0.3274,0.0047007)(0.3351,0.0047319)(0.3429,0.0047412)(0.3506,0.0047163)(0.3584,0.0047942)(0.3661,0.0048410)(0.3738,0.0048878)(0.3816,0.0049283)(0.3893,0.0049595)(0.3971,0.0049907)(0.4048,0.0050219)(0.4125,0.0050531)(0.4203,0.0050718)(0.4280,0.0050905)(0.4358,0.0050842)(0.4435,0.0050749)(0.4512,0.0050905)(0.4590,0.0050967)(0.4667,0.0051061)(0.4745,0.0051154)(0.4822,0.0051279)(0.4899,0.0051466)(0.4977,0.0051591)(0.5054,0.0051778)(0.5132,0.0051903)(0.5209,0.0052214)(0.5286,0.0052526)(0.5364,0.0052776)(0.5441,0.0053025)(0.5519,0.0053337)(0.5596,0.0053556)(0.5673,0.0053774)(0.5751,0.0053961)(0.5828,0.0054179)(0.5906,0.0054491)(0.5983,0.0054803)(0.6060,0.0055115)(0.6138,0.0055427)(0.6215,0.0055739)(0.6293,0.0055957)(0.6370,0.0056206)(0.6447,0.0056518)(0.6525,0.0056830)(0.6602,0.0057142)(0.6680,0.0057454)(0.6757,0.0057765)(0.6834,0.0058077)(0.6912,0.0057828)(0.6989,0.0058326)(0.7067,0.0058701)(0.7144,0.0059013)(0.7221,0.0059324)(0.7299,0.0059574)(0.7376,0.0059886)(0.7454,0.0060261)(0.7531,0.0060417)(0.7608,0.0060728)(0.7686,0.0061196)(0.7763,0.0061663)(0.7841,0.0061975)(0.7918,0.0062287)(0.7995,0.0062599)(0.8073,0.0063004)(0.8150,0.0063379)(0.8228,0.0063690)(0.8305,0.0064065)(0.8382,0.0064377)(0.8460,0.0064689)(0.8537,0.0064782)(0.8615,0.0064626)(0.8692,0.0064564)(0.8769,0.0064470)(0.8847,0.0064377)(0.8909,0.0064003)};
\end{axis}
\begin{axis}[off=ored, at={(101.7pt,-1306.7pt)}, anchor=south west, width=540pt, height=346.7pt,
  xmin=-0.1, xmax=1.1506, ymin=-0.0135, ymax=-0.0110,
  ytick={-0.0135,-0.0130,-0.0125,-0.0120,-0.0115,-0.0110}, yticklabel style={font=\fc}]
\end{axis}
\begin{axis}[off=omag, at={(101.7pt,-1306.7pt)}, anchor=south west, width=615.6pt, height=346.7pt,
  xmin=-0.1, xmax=1.32566, ymin=-0.0003, ymax=0.0011,
  ytick={-0.0002,0,0.0002,0.0004,0.0006,0.0008,0.0010}, yticklabel style={font=\fc}]
\addplot[m3] coordinates {(0,0.0009586)(0.0008,0.0002923)(0.0023,0.0001913)(0.0062,0.0007836)(0.0085,0.0008173)(0.0116,0.0007365)(0.0163,0.0007500)(0.0193,0.0007230)(0.0240,0.0006827)(0.0271,0.0007096)(0.0317,0.0006557)(0.0372,0.0006288)(0.0410,0.0005279)(0.0449,0.0006153)(0.0488,0.0006961)(0.0526,0.0007230)(0.0565,0.0006692)(0.0604,0.0006288)(0.0642,0.0008577)(0.0666,0.0007365)(0.0704,0.0008307)(0.0735,0.0007903)(0.0766,0.0007500)(0.0797,0.0007230)(0.0836,0.0007634)(0.0859,0.0006961)(0.0890,0.0005750)(0.0921,0.0004538)(0.0952,0.0004673)(0.0975,0.0005211)(0.1006,0.0004269)(0.1029,0.0004000)(0.1068,0.0003192)(0.1107,0.0003057)(0.1146,0.0001980)(0.1184,0.0000500)(0.1223,-0.0000577)(0.1262,0.0000769)(0.1300,0.0001442)(0.1339,0.0001173)(0.1378,0.0000634)(0.1416,0.0001307)(0.1455,0.0000500)(0.1494,0.0001577)(0.1533,0.0001442)(0.1571,0.0002250)(0.1610,0.0001846)(0.1649,0.0001577)(0.1687,0.0002384)(0.1726,0.0002115)(0.1765,0.0002654)(0.1803,0.0001577)(0.1842,0.0001038)(0.1881,0.0001577)(0.1920,0.0001442)(0.1958,0.0001307)(0.1997,0.0001173)(0.2036,0.0000365)(0.2074,0.0001038)(0.2113,0.0001577)(0.2152,0.0001980)(0.2175,0.0004269)(0.2206,0.0003865)(0.2245,0.0004538)(0.2283,0.0005615)(0.2330,0.0005884)(0.2361,0.0006692)(0.2407,0.0006961)(0.2438,0.0008173)(0.2485,0.0007769)(0.2515,0.0008307)(0.2562,0.0006153)(0.2593,0.0005884)(0.2639,0.0005211)(0.2670,0.0005480)(0.2717,0.0005077)(0.2748,0.0005615)(0.2794,0.0004807)(0.2825,0.0004673)(0.2872,0.0005077)(0.2902,0.0004538)(0.2949,0.0004673)(0.2980,0.0005077)(0.3026,0.0004807)(0.3057,0.0004269)(0.3104,0.0004673)(0.3158,0.0005077)(0.3197,0.0004538)(0.3235,0.0006019)(0.3274,0.0006692)(0.3313,0.0007230)(0.3367,0.0006961)(0.3413,0.0006153)(0.3460,0.0004000)(0.3506,0.0002923)(0.3545,0.0002384)(0.3584,0.0001846)(0.3646,0.0001980)(0.3700,0.0001307)(0.3738,0.0000769)(0.3785,0.0001038)(0.3831,0.0001577)(0.3878,0.0000904)(0.3932,0.0001442)(0.3986,0.0000634)(0.4033,0.0001846)(0.4071,0.0002384)(0.4110,0.0001577)(0.4164,0.0001980)(0.4203,0.0001442)(0.4249,0.0001038)(0.4296,0.0000769)(0.4342,0.0000500)(0.4396,0.0001173)(0.4435,0.0000634)(0.4497,0.0000231)(0.4551,0.0001038)(0.4605,-0.0000039)(0.4667,-0.0000308)(0.4706,-0.0000846)(0.4745,0.0000500)(0.4783,0.0001846)(0.4822,0.0002923)(0.4861,0.0003461)(0.4899,0.0004000)(0.4938,0.0004942)(0.4977,0.0005615)(0.5015,0.0005884)(0.5054,0.0006423)(0.5093,0.0006827)(0.5132,0.0006288)(0.5170,0.0006961)(0.5209,0.0007365)(0.5248,0.0007096)(0.5286,0.0006692)(0.5325,0.0007230)(0.5364,0.0006423)(0.5402,0.0006961)(0.5441,0.0005884)(0.5480,0.0006288)(0.5519,0.0005750)(0.5557,0.0005615)(0.5596,0.0006153)(0.5635,0.0006692)(0.5673,0.0006961)(0.5712,0.0007500)(0.5751,0.0007769)(0.5789,0.0006961)(0.5828,0.0006288)(0.5867,0.0006827)(0.5906,0.0006423)(0.5944,0.0005884)(0.5983,0.0005077)(0.6022,0.0004269)(0.6060,0.0003192)(0.6099,0.0001846)(0.6138,0.0000500)(0.6176,-0.0000173)(0.6215,-0.0000846)(0.6254,-0.0001452)(0.6293,-0.0000577)(0.6331,-0.0001385)(0.6370,-0.0000308)(0.6409,0.0000500)(0.6447,0.0000904)(0.6486,-0.0000039)(0.6525,0.0001038)(0.6563,0.0001577)(0.6602,0.0000769)(0.6641,0.0000500)(0.6680,0.0001846)(0.6718,0.0001038)(0.6757,0.0000231)(0.6796,0.0002384)(0.6834,0.0001846)(0.6873,0.0003192)(0.6912,0.0004269)(0.6950,0.0005077)(0.6989,0.0005615)(0.7028,0.0006288)(0.7067,0.0006692)(0.7105,0.0007500)(0.7144,0.0007230)(0.7183,0.0008577)(0.7221,0.0006961)(0.7260,0.0006423)(0.7299,0.0006961)(0.7337,0.0007500)(0.7376,0.0006692)(0.7415,0.0006288)(0.7454,0.0005884)(0.7492,0.0006423)(0.7531,0.0006692)(0.7570,0.0005615)(0.7608,0.0005346)(0.7647,0.0006423)(0.7686,0.0006153)(0.7724,0.0005615)(0.7763,0.0006019)(0.7802,0.0006288)(0.7841,0.0006692)(0.7879,0.0005615)(0.7918,0.0007634)(0.7957,0.0006827)(0.7995,0.0006288)(0.8034,0.0004269)(0.8073,0.0003192)(0.8111,0.0001577)(0.8150,0.0000500)(0.8189,-0.0000173)(0.8228,-0.0000981)(0.8266,-0.0000308)(0.8305,-0.0000846)(0.8344,-0.0000712)(0.8382,-0.0000039)(0.8421,-0.0001116)(0.8460,0.0000365)(0.8498,-0.0000846)(0.8537,0.0000904)(0.8576,-0.0000039)(0.8615,0.0000500)(0.8653,-0.0000712)(0.8692,0.0000096)(0.8731,0.0000769)(0.8769,-0.0001116)(0.8793,-0.0000308)};
\end{axis}
\begin{axis}[off=ogreen, at={(101.7pt,-1306.7pt)}, anchor=south west, width=687.3pt, height=346.7pt,
  xmin=-0.1, xmax=1.49171, ymin=0.0006, ymax=0.0020,
  ytick={0.0006,0.0008,0.0010,0.0012,0.0014,0.0016,0.0018,0.0020}, yticklabel style={font=\fc},
  ylabel={ΔR/R\textsubscript{0}},
  every axis y label/.style={at={(axis description cs:1.1276,0.4327)}, anchor=center, rotate=-90, text=ogreen, font=\fontsize{16}{16}\selectfont},
  legend style={at={(axis description cs:0.2492,0.9942)}, anchor=north west, draw=none, fill=none, inner sep=0pt, row sep=2pt,
    font=\bfseries\fontsize{12.6}{13}\selectfont, nodes={inner sep=1.2pt, text height=9.5pt, text depth=2.5pt}},
  legend cell align=left,
  legend image code/.code={\draw[mark repeat=2,mark phase=2,#1] plot coordinates {(0pt,0pt) (14.5pt,0pt) (29pt,0pt)};}]
\addlegendimage{black, line width=0.8pt, mark=square*, mark size=2pt, mark options={solid}}
\addlegendimage{b3}
\addlegendimage{r3}
\addlegendimage{m3}
\addplot[g3] coordinates {(0,0.0012932)(0.0008,0.0016298)(0.0031,0.0015827)(0.0062,0.0014884)(0.0085,0.0015423)(0.0116,0.0015153)(0.0163,0.0015961)(0.0193,0.0014884)(0.0240,0.0015692)(0.0271,0.0014750)(0.0317,0.0016230)(0.0348,0.0015961)(0.0379,0.0016903)(0.0410,0.0014615)(0.0449,0.0015692)(0.0488,0.0016903)(0.0526,0.0015423)(0.0565,0.0015288)(0.0604,0.0016500)(0.0642,0.0015961)(0.0681,0.0015557)(0.0720,0.0015288)(0.0759,0.0014615)(0.0797,0.0014884)(0.0836,0.0014346)(0.0875,0.0012999)(0.0913,0.0011653)(0.0952,0.0010711)(0.0991,0.0009903)(0.1029,0.0010442)(0.1068,0.0009365)(0.1107,0.0011115)(0.1146,0.0009500)(0.1184,0.0008423)(0.1223,0.0010173)(0.1262,0.0009500)(0.1300,0.0010577)(0.1339,0.0011788)(0.1378,0.0012999)(0.1416,0.0012192)(0.1455,0.0010846)(0.1494,0.0011384)(0.1533,0.0011923)(0.1571,0.0010846)(0.1610,0.0012730)(0.1649,0.0011923)(0.1687,0.0010577)(0.1726,0.0012327)(0.1765,0.0011384)(0.1803,0.0012192)(0.1842,0.0010442)(0.1881,0.0010038)(0.1920,0.0011923)(0.1958,0.0010846)(0.1997,0.0010442)(0.2036,0.0012057)(0.2074,0.0014346)(0.2113,0.0013403)(0.2152,0.0015423)(0.2175,0.0014615)(0.2206,0.0016230)(0.2237,0.0016500)(0.2268,0.0016769)(0.2307,0.0016230)(0.2345,0.0017173)(0.2384,0.0018115)(0.2407,0.0018250)(0.2438,0.0018788)(0.2469,0.0017846)(0.2500,0.0017711)(0.2539,0.0017307)(0.2577,0.0017173)(0.2616,0.0016903)(0.2655,0.0017038)(0.2693,0.0016769)(0.2732,0.0017307)(0.2771,0.0016634)(0.2810,0.0016230)(0.2848,0.0016769)(0.2887,0.0015961)(0.2926,0.0016500)(0.2964,0.0016365)(0.3003,0.0016096)(0.3042,0.0016634)(0.3080,0.0016230)(0.3119,0.0015827)(0.3158,0.0016500)(0.3197,0.0015019)(0.3235,0.0013538)(0.3274,0.0012865)(0.3313,0.0009769)(0.3351,0.0010846)(0.3390,0.0010577)(0.3429,0.0009634)(0.3467,0.0011115)(0.3506,0.0010038)(0.3545,0.0009365)(0.3584,0.0008423)(0.3622,0.0009096)(0.3661,0.0008019)(0.3700,0.0008826)(0.3738,0.0009500)(0.3777,0.0010173)(0.3816,0.0008692)(0.3854,0.0008154)(0.3893,0.0009769)(0.3932,0.0009500)(0.3971,0.0009096)(0.4009,0.0009903)(0.4048,0.0010173)(0.4087,0.0009500)(0.4125,0.0009230)(0.4164,0.0010038)(0.4203,0.0009365)(0.4241,0.0008961)(0.4280,0.0009769)(0.4319,0.0009500)(0.4358,0.0008826)(0.4396,0.0009230)(0.4435,0.0008423)(0.4474,0.0009500)(0.4512,0.0010038)(0.4551,0.0011115)(0.4590,0.0012192)(0.4628,0.0013538)(0.4667,0.0014077)(0.4706,0.0014615)(0.4745,0.0014884)(0.4783,0.0015153)(0.4822,0.0016230)(0.4861,0.0015692)(0.4899,0.0016903)(0.4938,0.0016634)(0.4977,0.0016096)(0.5015,0.0015288)(0.5054,0.0016230)(0.5093,0.0016365)(0.5132,0.0015961)(0.5170,0.0015288)(0.5209,0.0015557)(0.5248,0.0014346)(0.5286,0.0014077)(0.5325,0.0015153)(0.5364,0.0014615)(0.5402,0.0015423)(0.5441,0.0015827)(0.5480,0.0015153)(0.5519,0.0016096)(0.5557,0.0015557)(0.5596,0.0015961)(0.5635,0.0015692)(0.5673,0.0015288)(0.5712,0.0015961)(0.5751,0.0016230)(0.5789,0.0015423)(0.5828,0.0014077)(0.5867,0.0012999)(0.5906,0.0012192)(0.5944,0.0010307)(0.5983,0.0009500)(0.6022,0.0009230)(0.6060,0.0009769)(0.6099,0.0008826)(0.6138,0.0008692)(0.6176,0.0009500)(0.6215,0.0008019)(0.6254,0.0008423)(0.6293,0.0007615)(0.6331,0.0007884)(0.6370,0.0009230)(0.6409,0.0009769)(0.6447,0.0010307)(0.6486,0.0010038)(0.6525,0.0011384)(0.6563,0.0010307)(0.6602,0.0010577)(0.6641,0.0009500)(0.6680,0.0010577)(0.6718,0.0010038)(0.6757,0.0009769)(0.6796,0.0010577)(0.6834,0.0009500)(0.6873,0.0010307)(0.6912,0.0010038)(0.6950,0.0011384)(0.6989,0.0013807)(0.7028,0.0014615)(0.7067,0.0015423)(0.7105,0.0016096)(0.7144,0.0015557)(0.7183,0.0015153)(0.7221,0.0014884)(0.7260,0.0015961)(0.7299,0.0015423)(0.7337,0.0015288)(0.7376,0.0015692)(0.7415,0.0015019)(0.7454,0.0014615)(0.7492,0.0015961)(0.7531,0.0015692)(0.7570,0.0016230)(0.7608,0.0015153)(0.7647,0.0016634)(0.7686,0.0016903)(0.7724,0.0015961)(0.7763,0.0017307)(0.7802,0.0017173)(0.7841,0.0016634)(0.7879,0.0016769)(0.7918,0.0015961)(0.7957,0.0015692)(0.7995,0.0014077)(0.8034,0.0013269)(0.8073,0.0012192)(0.8111,0.0011653)(0.8150,0.0010846)(0.8189,0.0009769)(0.8228,0.0009500)(0.8266,0.0009230)(0.8305,0.0010307)(0.8344,0.0009769)(0.8382,0.0011115)(0.8421,0.0010038)(0.8460,0.0010981)(0.8498,0.0010846)(0.8537,0.0012999)(0.8576,0.0012865)(0.8615,0.0013538)(0.8653,0.0012730)(0.8692,0.0013942)(0.8731,0.0012999)(0.8769,0.0013269)(0.8808,0.0011923)(0.8847,0.0012461)(0.8885,0.0013538)(0.8924,0.0014615)(0.8963,0.0013538)};
\legend{third tension with a maximum load of 9KN, sensor1 on aluminium laminate, sensor2 in glass fiber laminate, sensor3 at interface, sensor4 at interface}
\end{axis}
\end{tikzpicture}
\end{document}
